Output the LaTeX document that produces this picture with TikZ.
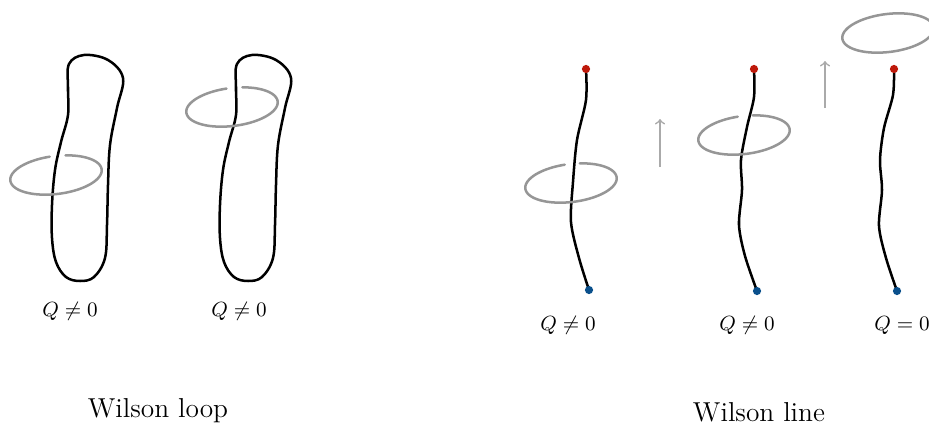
\documentclass[tikz,border=0pt]{standalone}
\usepackage{amsmath}

\definecolor{chargered}{RGB}{190,25,10}
\definecolor{chargeblue}{RGB}{10,80,140}
\definecolor{ringgray}{RGB}{150,150,150}
\definecolor{arrowgray}{RGB}{170,170,170}

\tikzset{
    strand/.style={black, line width=1.1pt, line cap=round},
    ring/.style={ringgray, line width=1.1pt, line cap=round},
    uparrow/.style={arrowgray, line width=0.7pt, -to},
    charge/.style={circle, fill, inner sep=0pt, minimum size=3.6pt},
    qlabel/.style={font=\small},
    caption/.style={font=\large}
}

% tilted gray ring: centre x, centre y, start angle, end angle
\newcommand{\ringarc}[4]{%
    \draw[ring] plot[domain=#3:#4, samples=90, smooth]
        ({#1+46*cos(\x)*cos(7)+19*sin(\x)*sin(7)}, {#2-46*cos(\x)*sin(7)+19*sin(\x)*cos(7)});
}

\begin{document}
\begin{tikzpicture}[x=0.0154cm, y=-0.0154cm]
        \useasboundingbox (0,0) rectangle (929,424);

        % Wilson loop, ring low
        \draw[strand] plot[smooth cycle, tension=0.6] coordinates {
            (84,55) (108,60) (123,78) (117,108) (110,145) (108,185) (107,225)
            (105,258) (94,277) (80,281) (66,277) (56,262) (52,238) (52,205)
            (55,170) (61,142) (68,115) (68,88) (69,64)};
        \ringarc{56}{175}{285}{625}
        \node[qlabel] (qla) at (70,311) {$Q \neq 0$};

        % Wilson loop, ring high
        \draw[strand] plot[smooth cycle, tension=0.6] coordinates {
            (252,55) (276,60) (291,78) (285,108) (278,145) (276,185) (275,225)
            (273,258) (262,277) (248,281) (234,277) (224,262) (220,238) (220,205)
            (223,170) (229,142) (236,115) (236,88) (237,64)};
        \ringarc{232}{107}{286}{626}
        \node[qlabel] (qlb) at (239,311) {$Q \neq 0$};

        \node[caption] (loopcap) at (158,411) {Wilson loop};

        % Wilson line 1
        \coordinate (ba) at (589,290);
        \coordinate (ra) at (586,69);
        \draw[strand] plot[smooth] coordinates {
            (ba) (579,258) (571,222) (573,182) (577,140) (586,100) (ra)};
        \ringarc{571}{183}{284}{625}
        \node[charge, chargered] at (ra) {};
        \node[charge, chargeblue] at (ba) {};
        \node[qlabel] (qra) at (568,325) {$Q \neq 0$};

        \coordinate (aa1) at (660,167);
        \coordinate (aa2) at (660,119);
        \draw[uparrow] (aa1) -- (aa2);

        % Wilson line 2
        \coordinate (bb) at (757,291);
        \coordinate (rb) at (754,69);
        \draw[strand] plot[smooth] coordinates {
            (bb) (745,256) (739,225) (742,190) (741,160) (747,127) (754,97) (rb)};
        \ringarc{744}{135}{284}{625}
        \node[charge, chargered] at (rb) {};
        \node[charge, chargeblue] at (bb) {};
        \node[qlabel] (qrb) at (747,325) {$Q \neq 0$};

        \coordinate (ab1) at (825,108);
        \coordinate (ab2) at (825,61);
        \draw[uparrow] (ab1) -- (ab2);

        % Wilson line 3, ring unlinked
        \coordinate (bc) at (897,291);
        \coordinate (rc) at (894,69);
        \draw[strand] plot[smooth] coordinates {
            (bc) (886,258) (879,226) (882,190) (880,160) (884,128) (893,95) (rc)};
        \ringarc{888}{33}{0}{360}
        \node[charge, chargered] at (rc) {};
        \node[charge, chargeblue] at (bc) {};
        \node[qlabel] (qrc) at (902,325) {$Q = 0$};

        \node[caption] (linecap) at (759,412) {Wilson line};
    \end{tikzpicture}
\end{document}
